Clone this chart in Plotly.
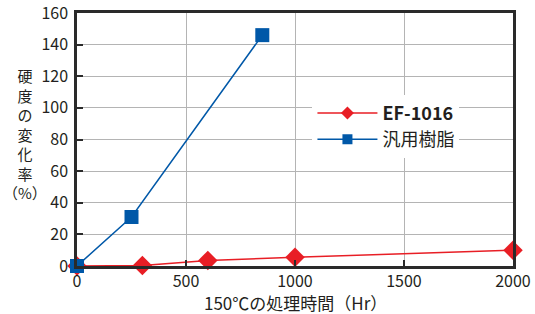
import plotly.graph_objects as go

hours_ef = [0, 300, 600, 1000, 2000]
change_ef = [0, 0.3, 3.5, 5.5, 10]
hours_gen = [0, 250, 850]
change_gen = [0, 31, 146]

x_ticks = [0, 500, 1000, 1500, 2000]
y_ticks = [0, 20, 40, 60, 80, 100, 120, 140, 160]

RED = "#E81E25"
BLUE = "#0058A8"
FONT = "Noto Sans CJK JP"
TXT = "#231F20"

fig = go.Figure()
fig.add_trace(go.Scatter(
    x=hours_ef, y=change_ef, name="<b>EF-1016</b>", mode="lines+markers",
    line=dict(color=RED, width=1.5),
    marker=dict(symbol="diamond", size=15, color=RED),
    cliponaxis=False, showlegend=False,
))
fig.add_trace(go.Scatter(
    x=hours_gen, y=change_gen, name="汎用樹脂", mode="lines+markers",
    line=dict(color=BLUE, width=1.5),
    marker=dict(symbol="square", size=14, color=BLUE),
    cliponaxis=False, showlegend=False,
))
# legend-only entries (smaller markers as in the reference legend)
fig.add_trace(go.Scatter(
    x=[None], y=[None], name="<b>EF-1016</b>", mode="lines+markers",
    line=dict(color=RED, width=1.5),
    marker=dict(symbol="diamond", size=10, color=RED),
))
fig.add_trace(go.Scatter(
    x=[None], y=[None], name="汎用樹脂", mode="lines+markers",
    line=dict(color=BLUE, width=1.5),
    marker=dict(symbol="square", size=10, color=BLUE),
))

axis_common = dict(
    showgrid=True, gridcolor="#B4B4B4", gridwidth=1,
    showline=True, linecolor="#2A2A2A", linewidth=2.5, mirror=True,
    ticks="inside", ticklen=6, tickwidth=2, tickcolor="#2A2A2A",
    zeroline=False, automargin=False, ticklabeloverflow="allow",
    tickfont=dict(family=FONT, size=16, color=TXT),
)

fig.update_layout(
    width=535, height=314,
    margin=dict(l=77, r=22, t=13, b=48, autoexpand=False),
    paper_bgcolor="white", plot_bgcolor="white",
    font=dict(family=FONT, color=TXT),
    showlegend=True,
    legend=dict(
        x=0.54, y=0.677, xanchor="left", yanchor="top",
        bgcolor="white", borderwidth=0,
        font=dict(family=FONT, size=18, color=TXT),
        itemsizing="trace", itemwidth=60, tracegroupgap=0,
    ),
    xaxis=dict(range=[0, 2000], tickvals=x_ticks, ticklabelstandoff=-1, **axis_common),
    yaxis=dict(range=[0, 160], tickvals=y_ticks, ticklabelstandoff=3, **axis_common),
)

fig.add_annotation(
    text="150℃の処理時間（Hr）", xref="paper", yref="paper",
    x=0.5, y=-0.146, xanchor="center", yanchor="middle", showarrow=False,
    font=dict(family=FONT, size=17, color=TXT),
)
fig.add_annotation(
    text="硬<br>度<br>の<br>変<br>化<br>率<br>（%）", xref="paper", yref="paper",
    x=-0.119, y=0.52, xanchor="center", yanchor="middle", showarrow=False,
    align="center",
    font=dict(family=FONT, size=15, color=TXT),
)

fig.write_html(
    "out.html",
    config={"displayModeBar": False},
    post_script="document.body.style.margin='0px';document.body.style.overflow='hidden';",
)
